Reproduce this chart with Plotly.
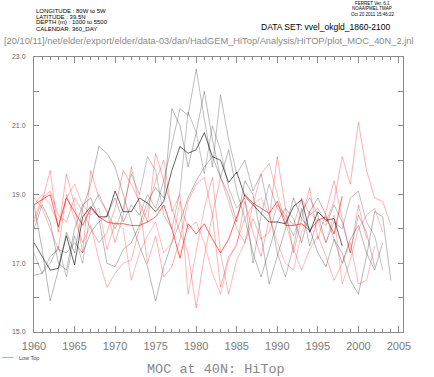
import plotly.graph_objects as go

years = list(range(1960, 2005))

# HiTop members (grey)
hitop_1 = [18.7, 17.4, 15.9, 16.8, 17.9, 17.3, 18.6, 19.3, 20.4, 20.2, 19.8, 19.0, 18.2, 17.5, 16.9, 15.9,
           16.9, 17.6, 18.2, 18.9, 19.4, 19.8, 20.1, 19.5, 20.3, 19.1, 18.3, 17.3, 16.6, 17.4, 18.2, 18.6,
           18.3, 17.6, 18.5, 18.9, 18.4, 17.7, 17.0, 17.7, 18.1, 17.3, 16.8, 17.6, None]
hitop_2 = [16.65, 16.7, 17.2, 17.4, 17.3, 17.6, 17.3, 17.9, 18.2, 18.4, 18.9, 18.2, 18.7, 18.4, 19.0, 18.6,
           19.4, 20.5, 21.5, 21.3, 22.65, 21.2, 19.8, 21.9, 20.6, 19.6, 20.0, 19.1, 19.6, 18.5, 17.3, 16.6,
           17.5, 18.6, 17.5, 18.3, 18.1, 18.7, 18.2, 17.3, 18.4, 17.9, 16.9, None, None]
hitop_3 = [18.0, 18.7, 18.2, 17.0, 16.8, 18.0, 18.7, 18.9, 18.3, 17.0, 16.9, 17.4, 17.6, 18.1, 18.8, 19.2,
           18.9, 21.5, 21.0, 19.8, 20.8, 22.0, 20.6, 19.5, 19.0, 18.2, 19.4, 19.0, 17.8, 16.4, 17.2, 18.0,
           18.9, 18.3, 18.0, 17.3, 16.9, 17.7, 17.3, 16.5, 16.1, 17.2, 18.5, 18.35, 16.5]
hitop_4 = [17.3, 16.7, 17.0, 17.5, 16.6, 17.8, 17.0, 18.6, 19.0, 18.5, 18.0, 18.6, 19.6, 19.0, 20.1, 19.7,
           18.4, 18.0, 19.1, 21.4, 20.8, 19.6, 21.0, 20.3, 19.2, 18.6, 18.9, 17.0, 18.4, 19.3, 18.6, 18.3,
           17.8, 18.5, 18.9, 18.4, 17.6, 18.2, 18.0, 18.9, 19.1, 18.2, 17.8, 16.8, None]
hitop_dark = [17.6, 17.2, 16.8, 16.85, 17.8, 16.95, 18.35, 18.65, 18.35, 18.35, 19.1, 18.5, 18.5, 18.9, 18.75,
              18.5, 18.8, 19.7, 20.4, 20.2, 20.3, 20.8, 20.1, 20.0, 19.35, 19.65, 18.95, 18.7, 18.45, 18.2,
              18.2, 18.15, 18.65, 18.85, 17.9, 18.5, 18.25, 18.3, 17.5, None, None, None, None, None, None]

# Low Top members (red)
lowtop_1 = [18.3, 18.9, 19.1, 18.4, 18.2, 18.9, 18.5, 18.0, 17.6, 17.9, 18.6, 19.7, 19.3, 18.8, 18.2, 20.2,
            19.4, 18.6, 17.9, 17.3, 15.7, 17.2, 18.4, 19.5, 18.8, 18.0, 17.6, 18.3, 17.7, 17.9, 18.7, 18.4,
            18.1, 18.9, 18.4, 18.6, 18.2, 18.8, 20.1, 19.3, 21.1, 19.7, 18.9, 18.8, 18.1]
lowtop_2 = [18.9, 18.6, 18.0, 17.4, 19.0, 18.3, 17.6, 18.1, 17.1, 16.3, 16.7, 17.0, 17.1, 18.0, 18.6, 19.4,
            20.0, 18.5, 19.0, 16.1, 17.4, 18.6, 19.5, 17.3, 16.1, 17.1, 17.6, 18.7, 19.6, 19.9, 19.0, 18.2,
            17.4, 16.8, 17.4, 17.8, 17.2, 16.5, 17.0, 17.6, 16.4, 16.5, 17.5, None, None]
lowtop_3 = [18.2, 18.8, 19.7, 17.9, 19.6, 18.7, 17.3, 19.7, 18.9, 18.5, 17.6, 18.4, 19.8, 18.7, 17.0, 17.8,
            16.6, 16.9, 17.7, 18.8, 19.3, 19.5, 18.4, 16.3, 17.2, 17.5, 18.8, 17.9, 17.2, 18.3, 20.1, 18.6,
            17.3, 18.3, 19.2, 17.7, 18.5, 19.4, 18.3, 17.3, 18.7, 17.7, None, None, None]
lowtop_4 = [18.7, 19.0, 18.7, 18.1, 18.9, 19.3, 18.7, 18.4, 18.6, 17.4, 18.2, 18.0, 16.5, 17.3, 17.8, 18.2,
            17.3, 17.6, 18.8, 18.0, 18.2, 17.6, 16.7, 16.1, 17.1, 17.6, 18.3, 18.7, 18.9, 18.4, 17.6, 17.0,
            16.8, 17.9, 18.5, 18.2, 17.6, 18.4, 16.4, 17.1, 18.0, 18.4, 18.6, 17.9, None]
lowtop_dark = [18.7, 18.85, 19.0, 18.05, 18.9, 18.5, 18.1, 18.6, 18.35, 18.2, 18.15, 18.15, 18.1, 18.1, 18.2,
               18.35, 18.7, 18.0, 17.15, 18.15, 17.85, 18.15, 17.7, 17.3, 17.7, 18.35, 19.0, 18.75, 18.6, 18.45,
               18.8, 18.1, 18.1, 18.15, 17.95, 18.25, 18.35, 17.85, 18.95, None, None, None, None, None, None]

x_ticks = [1960, 1965, 1970, 1975, 1980, 1985, 1990, 1995, 2000, 2005]
y_ticks = [15, 17, 19, 21, 23]

fig = go.Figure()

grey_series = [(hitop_1, "rgba(0,0,0,0.28)"), (hitop_2, "rgba(0,0,0,0.26)"),
               (hitop_3, "rgba(0,0,0,0.28)"), (hitop_4, "rgba(0,0,0,0.24)")]
red_series = [(lowtop_1, "rgba(255,0,0,0.30)"), (lowtop_2, "rgba(255,0,0,0.28)"),
              (lowtop_3, "rgba(255,0,0,0.30)"), (lowtop_4, "rgba(255,0,0,0.26)")]

for vals, col in grey_series:
    fig.add_trace(go.Scatter(x=years, y=vals, mode="lines", line=dict(color=col, width=1),
                             showlegend=False, connectgaps=False))
for vals, col in red_series:
    fig.add_trace(go.Scatter(x=years, y=vals, mode="lines", line=dict(color=col, width=1),
                             showlegend=False, connectgaps=False))
fig.add_trace(go.Scatter(x=years, y=lowtop_dark, mode="lines", line=dict(color="rgba(255,0,0,0.6)", width=1),
                         showlegend=False))
fig.add_trace(go.Scatter(x=years, y=hitop_dark, mode="lines", line=dict(color="rgba(0,0,0,0.6)", width=1),
                         showlegend=False))

L, R, T, B = 32, 31, 57, 45
W, H = 434, 377
PW, PH = W - L - R, H - T - B


def px(x, y):
    return (x - L) / PW, (H - B - y) / PH


def text(x, y, s, size, color="#000000", xanchor="left", family="Liberation Sans"):
    xx, yy = px(x, y)
    fig.add_annotation(x=xx, y=yy, xref="paper", yref="paper", text=s, showarrow=False,
                       xanchor=xanchor, yanchor="middle",
                       font=dict(size=size, color=color, family=family))


axis_col = "#8a8a8a"
fig.update_xaxes(range=[1960, 2005.5], tickvals=x_ticks, ticks="inside", ticklen=6, tickcolor=axis_col,
                 showline=True, linecolor=axis_col, linewidth=1, mirror="allticks", showgrid=False,
                 zeroline=False, tickfont=dict(size=11, color="#7a7a7a", family="Liberation Sans"),
                 ticklabelstandoff=4,
                 minor=dict(dtick=1, tick0=1960, ticks="inside", ticklen=3, tickcolor=axis_col))
fig.update_yaxes(range=[15, 23], tickvals=y_ticks, ticktext=[f"{v:.1f}" for v in y_ticks],
                 ticks="inside", ticklen=5, tickcolor=axis_col,
                 showline=True, linecolor=axis_col, linewidth=1, mirror="allticks", showgrid=False,
                 zeroline=False, tickfont=dict(size=7, color="#666666", family="Liberation Sans"),
                 ticklabelstandoff=6,
                 minor=dict(dtick=1, tick0=15, ticks="inside", ticklen=5, tickcolor=axis_col))

# header texts
text(32, 11, "LONGITUDE : 80W to 5W", 6)
text(32, 16.5, "LATITUDE : 39.5N", 6)
text(32, 22.5, "DEPTH (m) : 1000 to 5500", 6)
text(32, 28.5, "CALENDAR: 360_DAY", 6)
text(372, 3.5, "FERRET Ver. 6.1", 4.5, xanchor="center")
text(372, 9, "NOAA/PMEL TMAP", 4.5, xanchor="center")
text(372, 14.5, "Oct 20 2011 15:46:22", 4.5, xanchor="center")
text(258, 27, "DATA SET: vvel_okgld_1860-2100", 8.5)
text(0, 41.5, "[20/10/11]/net/elder/export/elder/data-03/dan/HadGEM_HiTop/Analysis/HiTOP/plot_MOC_40N_2.jnl",
     9.3, color="#8a8a8a")

# legend
lx0, ly = px(0, 357.5)
lx1, _ = px(11, 357.5)
fig.add_shape(type="line", xref="paper", yref="paper", x0=lx0, x1=lx1, y0=ly, y1=ly,
              line=dict(color="rgba(255,0,0,0.45)", width=1))
text(15, 358, "Low Top", 5.5, color="#444444")

# title
text(214.5, 369, "MOC at 40N: HiTop", 13.5, color="#888888", xanchor="center", family="Liberation Mono")

fig.update_layout(width=W, height=H, margin=dict(l=L, r=R, t=T, b=B),
                  plot_bgcolor="white", paper_bgcolor="white", showlegend=False)

fig.write_html("out.html", config={"displayModeBar": False},
               post_script="document.body.style.margin='0';document.body.style.padding='0';")
